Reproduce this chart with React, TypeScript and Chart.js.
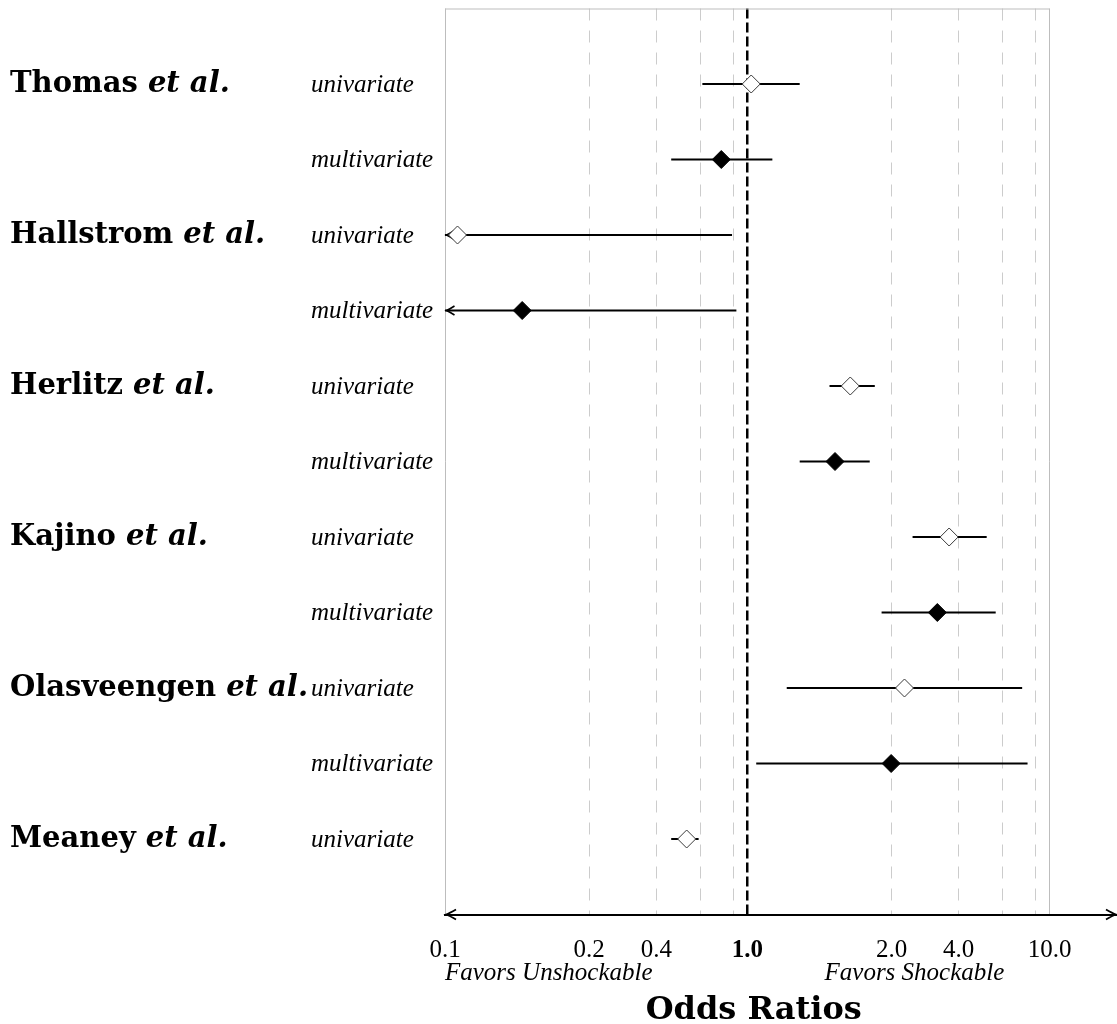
import React, { useEffect, useRef } from "react";
import { Chart, registerables } from "chart.js";

Chart.register(...registerables);

// ---- data ----
const studies = ["Thomas", "Hallstrom", "Herlitz", "Kajino", "Olasveengen", "Meaney"];
const rowStudy = [0, 0, 1, 1, 2, 2, 3, 3, 4, 4, 5];
const rowTypes = [
  "univariate", "multivariate",
  "univariate", "multivariate",
  "univariate", "multivariate",
  "univariate", "multivariate",
  "univariate", "multivariate",
  "univariate",
];
const oddsRatio = [1.03, 0.82, 0.11, 0.18, 2.19, 1.95, 4.65, 4.25, 3.31, 2.99, 0.63];
const ciLower = [0.71, 0.56, 0.09, 0.05, 1.87, 1.49, 3.52, 2.78, 1.35, 1.07, 0.56];
const ciUpper = [1.49, 1.21, 0.89, 0.92, 2.64, 2.54, 6.19, 6.63, 8.11, 8.45, 0.69];

const tickValues = [0.1, 0.3, 0.5, 0.7, 0.9, 1, 3, 5, 7, 9, 10];
const tickLabels = ["0.1", "0.2", "0.4", "", "", "1.0", "2.0", "4.0", "", "", "10.0"];
const xMin = 0.1;
const xMax = 16.7;
const boxMax = 10;

const favorLabels = ["Favors Unshockable", "Favors Shockable"];
const favorAnchors = [0.1, 1.8];
const axisTitle = "Odds Ratios";
const axisTitleAnchor = 1.05;

const SERIF = "'Liberation Serif', 'Times New Roman', serif";
const NAME_FONT = "'DejaVu Serif', serif";

function arrowHead(ctx: CanvasRenderingContext2D, x: number, y: number, dir: number, len = 8, half = 4.5) {
  ctx.beginPath();
  ctx.moveTo(x - dir * len, y - half);
  ctx.quadraticCurveTo(x - dir * len * 0.35, y - half * 0.25, x, y);
  ctx.quadraticCurveTo(x - dir * len * 0.35, y + half * 0.25, x - dir * len, y + half);
  ctx.stroke();
}

const decorPlugin = {
  id: "forestDecor",
  beforeDatasetsDraw(chart: any) {
    const { ctx, chartArea, scales } = chart;
    const xs = scales.x;
    const ys = scales.y;
    ctx.save();
    ctx.strokeStyle = "#bdbdbd";
    ctx.lineWidth = 1;
    ctx.beginPath();
    ctx.moveTo(xs.getPixelForValue(xMin), chartArea.top + 0.5);
    ctx.lineTo(xs.getPixelForValue(boxMax), chartArea.top + 0.5);
    ctx.stroke();
    // CI arrows for truncated lower bounds (under the markers)
    ctx.strokeStyle = "#000";
    ctx.lineWidth = 1.6;
    ciLower.forEach((lo, i) => {
      if (lo < xMin) {
        const y = ys.getPixelForValue(i + 1);
        arrowHead(ctx, xs.getPixelForValue(xMin) + 1.5, y, -1, 8, 4.5);
      }
    });
    ctx.restore();
  },
  afterDatasetsDraw(chart: any) {
    const { ctx, chartArea, scales } = chart;
    const xs = scales.x;
    const ys = scales.y;
    ctx.save();
    // axis arrows
    const ay = chartArea.bottom;
    ctx.strokeStyle = "#000";
    ctx.lineWidth = 1.8;
    arrowHead(ctx, chartArea.left + 1, ay, -1, 10, 5);
    arrowHead(ctx, chartArea.right - 1, ay, 1, 10, 5);

    // left labels
    ctx.fillStyle = "#000";
    ctx.textAlign = "left";
    ctx.textBaseline = "alphabetic";
    rowTypes.forEach((t, i) => {
      const y = ys.getPixelForValue(i + 1);
      ctx.font = `italic 25px ${SERIF}`;
      ctx.fillText(t, 311, y + 7.5);
      if (i === 0 || rowStudy[i] !== rowStudy[i - 1]) {
        const name = studies[rowStudy[i]] + " ";
        ctx.font = `bold 29px ${NAME_FONT}`;
        ctx.fillText(name, 10, y + 8);
        const w = ctx.measureText(name).width;
        ctx.font = `italic bold 29px ${NAME_FONT}`;
        ctx.fillText("et al.", 10 + w, y + 8);
      }
    });

    // favors labels
    ctx.font = `italic 25px ${SERIF}`;
    favorLabels.forEach((lab, i) => {
      ctx.fillText(lab, xs.getPixelForValue(favorAnchors[i]), 980);
    });
    // axis title
    ctx.font = `bold 32px ${NAME_FONT}`;
    ctx.textAlign = "center";
    ctx.fillText(axisTitle, xs.getPixelForValue(axisTitleAnchor), 1019);
    ctx.restore();
  },
};

export default function App() {
  const canvasRef = useRef<HTMLCanvasElement | null>(null);

  useEffect(() => {
    document.body.style.margin = "0";
    const canvas = canvasRef.current;
    if (!canvas) return;

    const ciSets = oddsRatio.map((_, i) => ({
      type: "scatter" as const,
      data: [
        { x: Math.max(ciLower[i], xMin), y: i + 1 },
        { x: ciUpper[i], y: i + 1 },
      ],
      showLine: true,
      borderColor: "#000",
      borderWidth: 2.2,
      pointRadius: 0,
      order: 1,
    }));

    const uniPts = oddsRatio
      .map((v, i) => ({ x: v, y: i + 1, t: rowTypes[i] }))
      .filter((p) => p.t === "univariate")
      .map((p) => ({ x: p.x, y: p.y }));
    const multiPts = oddsRatio
      .map((v, i) => ({ x: v, y: i + 1, t: rowTypes[i] }))
      .filter((p) => p.t === "multivariate")
      .map((p) => ({ x: p.x, y: p.y }));

    const chart = new Chart(canvas, {
      type: "scatter",
      data: {
        datasets: [
          ...ciSets,
          {
            data: uniPts,
            pointStyle: "rectRot",
            pointRadius: 9,
            backgroundColor: "#fff",
            borderColor: "#3a3a3a",
            borderWidth: 1,
            order: 0,
          },
          {
            data: multiPts,
            pointStyle: "rectRot",
            pointRadius: 9,
            backgroundColor: "#000",
            borderColor: "#000",
            borderWidth: 1,
            order: 0,
          },
        ] as any,
      },
      options: {
        animation: false,
        responsive: true,
        maintainAspectRatio: false,
        layout: { autoPadding: false, padding: { left: 445, top: 8.5, right: 0, bottom: 0 } },
        plugins: { legend: { display: false }, tooltip: { enabled: false } },
        scales: {
          x: {
            type: "logarithmic",
            position: "bottom",
            min: xMin,
            max: xMax,
            afterBuildTicks: (scale: any) => {
              scale.ticks = [...tickValues, xMax].map((v) => ({ value: v }));
            },
            afterFit: (scale: any) => {
              scale.height = 109.5;
            },
            ticks: {
              autoSkip: false,
              maxRotation: 0,
              minRotation: 0,
              padding: 0,
              color: "#000",
              callback: (_v: any, index: number) =>
                index < tickLabels.length ? tickLabels[index] : "",
              font: (ctx: any) => ({
                family: SERIF,
                size: 25,
                weight: ctx.tick && ctx.tick.value === 1 ? "bold" : "normal",
              }),
            } as any,
            grid: {
              drawTicks: true,
              tickLength: 21,
              tickColor: "rgba(0,0,0,0)",
              color: (ctx: any) => {
                const v = ctx.tick ? ctx.tick.value : null;
                if (v === null) return "#c8c8c8";
                if (v === 1) return "#000";
                if (v === xMax) return "rgba(0,0,0,0)";
                if (v === xMin || v === boxMax) return "#bdbdbd";
                return "#cccccc";
              },
              lineWidth: (ctx: any) => {
                const v = ctx.tick ? ctx.tick.value : null;
                if (v === 1) return 2.5;
                return 1;
              },
            },
            border: {
              display: true,
              color: "#000",
              width: 2,
              dash: (ctx: any) => {
                const v = ctx.tick ? ctx.tick.value : null;
                if (v === null || v === xMin || v === boxMax || v === xMax) return [];
                if (v === 1) return [10, 4];
                return [12, 10];
              },
            } as any,
          },
          y: {
            type: "linear",
            display: false,
            min: 0,
            max: 12,
            reverse: true,
          },
        },
      },
      plugins: [decorPlugin],
    });

    return () => chart.destroy();
  }, []);

  return (
    <div style={{ width: 1117, height: 1024, position: "relative" }}>
      <canvas ref={canvasRef} style={{ display: "block" }} />
    </div>
  );
}
